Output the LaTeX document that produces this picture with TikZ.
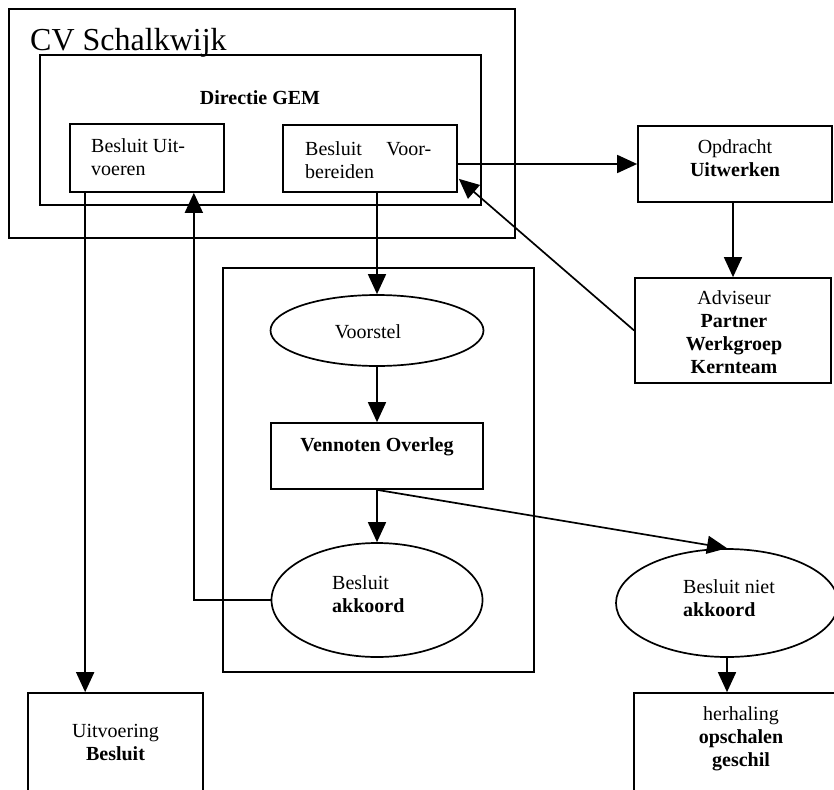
\documentclass[tikz,border=0pt]{standalone}
\usepackage{fontspec}
\setmainfont{Liberation Serif}
\usetikzlibrary{arrows.meta,shapes.geometric,calc}
\tikzset{
  box/.style={draw, line width=1.7pt, rectangle, inner sep=0pt},
  oval/.style={draw, line width=1.7pt, ellipse, inner sep=0pt},
  txt/.style={inner sep=0pt, font=\fontsize{20}{23}\selectfont},
  btxt/.style={inner sep=0pt, font=\fontsize{20}{23}\selectfont\bfseries},
  arr/.style={line width=1.7pt, -{Triangle[length=20pt,width=18pt]}},
  ln/.style={line width=1.7pt}
}
\begin{document}
\begin{tikzpicture}[x=1pt,y=-1pt]
\useasboundingbox (0,0) rectangle (834,789);
\clip (0,0) rectangle (834,789);
% containers
\node[box, minimum width=506pt, minimum height=229pt] (cv) at (262,123.5) {};
\node[inner sep=0pt, anchor=base west, font=\fontsize{32}{36}\selectfont] (cvt) at (30,51) {CV Schalkwijk};
\node[box, minimum width=441pt, minimum height=150pt] (dir) at (260.5,130) {};
\node[btxt, anchor=base] (dirt) at (260,105) {Directie GEM};
\node[box, minimum width=311pt, minimum height=404pt] (mid) at (378.5,470) {};
% boxes
\node[box, minimum width=154pt, minimum height=68pt] (uitv) at (147,158) {};
\node[txt, anchor=west, align=left] (uitvt) at (91,158.9) {\strut Besluit Uit-\\\strut voeren};
\node[box, minimum width=174pt, minimum height=67pt] (voorb) at (370,158.5) {};
\node[txt, anchor=west, align=left] (voorbt) at (305,161.9) {\strut\makebox[126pt][l]{Besluit\hfill Voor-}\\\strut bereiden};
\node[box, minimum width=194pt, minimum height=76pt] (opdr) at (735,164) {};
\node[txt, align=center] (opdrt) at (735,159.9) {\strut Opdracht\\\strut\textbf{Uitwerken}};
\node[box, minimum width=196pt, minimum height=105pt] (advis) at (733,330.5) {};
\node[txt, align=center] (advist) at (734,333.9) {\strut Adviseur\\\strut\textbf{Partner}\\\strut\textbf{Werkgroep}\\\strut\textbf{Kernteam}};
\node[oval, minimum width=213pt, minimum height=71pt] (voorstel) at (377,330.5) {};
\node[txt] (voorstelt) at (368,333.4) {\strut Voorstel};
\node[box, minimum width=212pt, minimum height=66pt] (venn) at (377,456) {};
\node[btxt] (vennt) at (377,447) {\strut Vennoten Overleg};
\node[oval, minimum width=211pt, minimum height=114pt] (akk) at (377,600) {};
\node[txt, anchor=west, align=left] (akkt) at (332,596.4) {\strut Besluit\\\strut\textbf{akkoord}};
\node[oval, minimum width=222pt, minimum height=108pt] (niet) at (727,603) {};
\node[txt, anchor=west, align=left] (nietx) at (683,599.9) {\strut Besluit niet\\\strut\textbf{akkoord}};
\node[box, minimum width=175pt, minimum height=107pt] (uitvoer) at (115.5,746.5) {};
\node[txt, align=center] (uitvoert) at (115.5,744.4) {\strut Uitvoering\\\strut\textbf{Besluit}};
\node[box, minimum width=214pt, minimum height=107pt] (herh) at (741,746.5) {};
\node[txt, align=center] (herht) at (741,738.4) {\strut herhaling\\\strut\textbf{opschalen}\\\strut\textbf{geschil}};
% connectors
\draw[arr] (voorb.south -| voorstel.north) -- (voorstel.north);
\draw[arr] (voorstel.south) -- (venn.north);
\draw[arr] (venn.south) -- (akk.north);
\draw[arr] (venn.south) -- (niet.north);
\draw[arr] (akk.west) -| ($(uitv.south east)+(-31,0)$);
\draw[arr] ($(uitv.south west)+(16,0)$) coordinate (a1) -- (a1 |- uitvoer.north);
\draw[arr] (opdr.west -| voorb.east) -- (opdr.west);
\draw[arr] (opdr.south -| advis.north) -- (advis.north);
\draw[arr] (advis.west) -- ($(voorb.south east)+(1,-14)$);
\draw[arr] (niet.south) -- (niet.south |- herh.north);
\end{tikzpicture}
\end{document}
